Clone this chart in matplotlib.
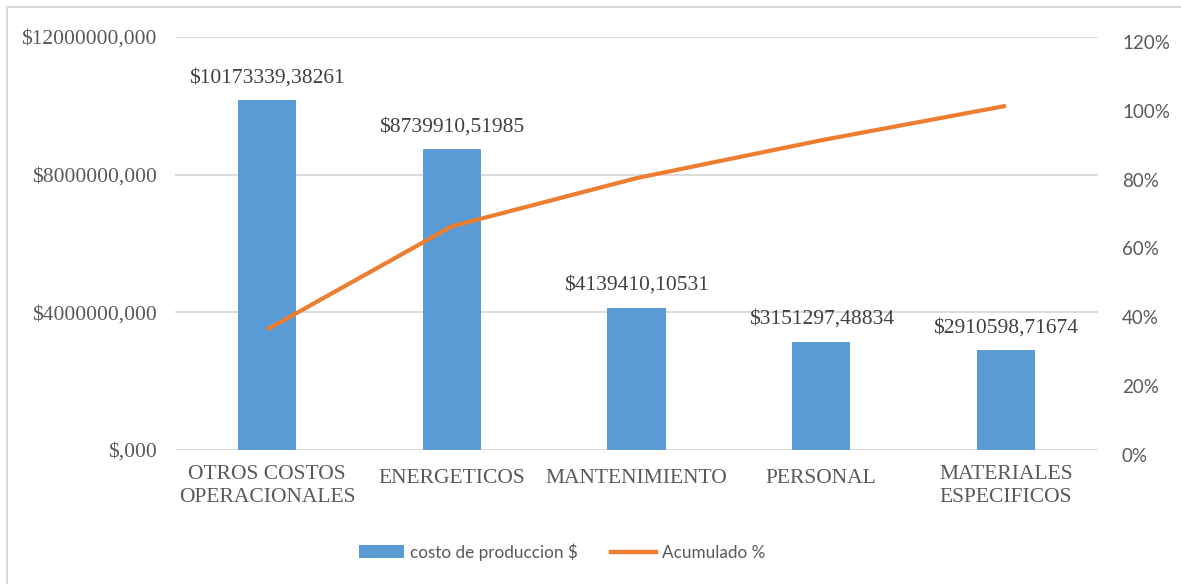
import numpy as np
import matplotlib
matplotlib.use('Agg')
import matplotlib.pyplot as plt
from matplotlib.lines import Line2D
from matplotlib.patches import Patch
from matplotlib.ticker import FuncFormatter
import matplotlib.transforms as mtransforms

# datos
categorias = ['OTROS COSTOS\nOPERACIONALES', 'ENERGETICOS', 'MANTENIMIENTO',
              'PERSONAL', 'MATERIALES\nESPECIFICOS']
costo = [10173339.38261, 8739910.51985, 4139410.10531, 3151297.48834, 2910598.71674]
etiquetas = ['$10173339,38261', '$8739910,51985', '$4139410,10531',
             '$3151297,48834', '$2910598,71674']
acumulado = [35, 65, 79, 90, 100]

azul = '#5B9BD5'
naranja = '#ED7D31'
gris_texto = '#595959'
serif = 'Liberation Serif'
sans = 'Lato'

fig = plt.figure(figsize=(11.81, 5.84), dpi=100)
ax = fig.add_axes([0.148, 0.2295, 0.782, 0.7071])
x = np.arange(len(categorias))

ax.bar(x, costo, width=0.315, color=azul, zorder=2)
ax.set_xlim(-0.5, len(categorias) - 0.5)
ax.set_ylim(0, 12000000)
ax.set_yticks([0, 4000000, 8000000, 12000000])
ax.yaxis.set_major_formatter(FuncFormatter(
    lambda v, p: '$,000' if v == 0 else '$%d,000' % v))
ax.grid(axis='y', color='#D9D9D9', linewidth=1.3, zorder=0)
ax.set_axisbelow(True)
for s in ax.spines.values():
    s.set_visible(False)
ax.tick_params(axis='both', length=0, colors=gris_texto)
ax.tick_params(axis='y', pad=13)
ax.tick_params(axis='x', pad=11)
ax.set_xticks(x)
ax.set_xticklabels(categorias, fontsize=15.5, family=serif, color=gris_texto,
                   linespacing=1.3)
# las etiquetas de una sola linea quedan un poco mas abajo
for lab in ax.get_xticklabels():
    if '\n' not in lab.get_text():
        lab.set_transform(lab.get_transform() +
                          mtransforms.ScaledTranslation(0, -4 / 100, fig.dpi_scale_trans))
for lab in ax.get_yticklabels():
    lab.set_family(serif)
    lab.set_fontsize(15.5)
    lab.set_color(gris_texto)

for xi, v, t in zip(x, costo, etiquetas):
    ax.annotate(t, (xi, v), xytext=(0, 16), textcoords='offset points',
                ha='center', va='center', fontsize=15.5, family=serif,
                color='#404040')

ax2 = ax.twinx()
ax2.plot(x, acumulado, color=naranja, linewidth=3.0, solid_capstyle='butt', zorder=3)
ax2.set_ylim(0, 120)
ax2.set_yticks(np.arange(0, 121, 20))
ax2.set_yticklabels(['%d%%' % v for v in range(0, 121, 20)], family=sans,
                    fontsize=13.5, color=gris_texto)
ax2.tick_params(axis='y', length=0, pad=17)
for lab in ax2.get_yticklabels():
    lab.set_transform(lab.get_transform() +
                      mtransforms.ScaledTranslation(0, -5 / 100, fig.dpi_scale_trans))
for s in ax2.spines.values():
    s.set_visible(False)

handles = [Patch(facecolor=azul, edgecolor='none'),
           Line2D([0], [0], color=naranja, linewidth=3.2)]
fig.legend(handles, ['costo de produccion $', 'Acumulado %'],
           loc='center', bbox_to_anchor=(0.476, 0.055), ncol=2, frameon=False,
           prop={'family': sans, 'size': 12.3}, labelcolor=gris_texto,
           handlelength=2.65, handleheight=0.75, columnspacing=1.9, handletextpad=0.35)

# borde del grafico
fig.add_artist(Line2D([0.006, 1], [0.988, 0.988], color='#D9D9D9', linewidth=1.5,
                      transform=fig.transFigure))
fig.add_artist(Line2D([0.006, 0.006], [0, 0.988], color='#D9D9D9', linewidth=1.5,
                      transform=fig.transFigure))

plt.savefig('out.png', dpi=100)
